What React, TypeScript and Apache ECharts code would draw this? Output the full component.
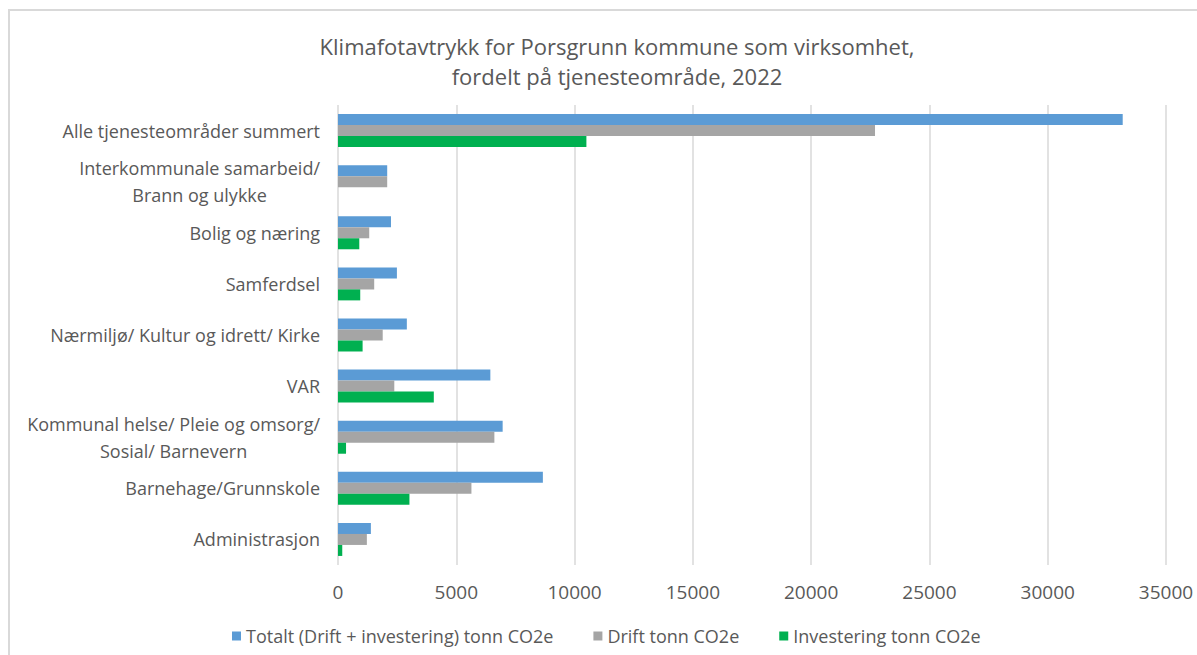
import React, { useEffect, useRef } from "react";
import * as echarts from "echarts";

const categories = [
  "Alle tjenesteområder summert",
  "Interkommunale samarbeid/\nBrann og ulykke",
  "Bolig og næring",
  "Samferdsel",
  "Nærmiljø/ Kultur og idrett/ Kirke",
  "VAR",
  "Kommunal helse/ Pleie og omsorg/\nSosial/ Barnevern",
  "Barnehage/Grunnskole",
  "Administrasjon",
];

const totalt = [33170, 2080, 2240, 2490, 2910, 6440, 6960, 8660, 1390];
const drift = [22700, 2080, 1320, 1530, 1890, 2380, 6610, 5640, 1220];
const investering = [10500, 0, 900, 940, 1040, 4050, 340, 3020, 180];

const seriesNames = [
  "Totalt (Drift + investering) tonn CO2e",
  "Drift tonn CO2e",
  "Investering tonn CO2e",
];
const colors = ["#5B9BD5", "#A5A5A5", "#00B050"];

const xTicks = { min: 0, max: 35000, interval: 5000 };

const FONT = "'Open Sans', 'Noto Sans', sans-serif";

export default function App() {
  const ref = useRef<HTMLDivElement>(null);
  useEffect(() => {
    if (!ref.current) return;
    const chart = echarts.init(ref.current, undefined, { renderer: "svg" });
    const seriesData = [totalt, drift, investering];
    chart.setOption({
      animation: false,
      backgroundColor: "#ffffff",
      title: {
        text: "Klimafotavtrykk for Porsgrunn kommune som virksomhet,\nfordelt på tjenesteområde, 2022",
        left: 612,
        top: 26,
        textAlign: "center",
        textStyle: {
          fontFamily: FONT,
          fontSize: 22,
          fontWeight: "normal",
          color: "#595959",
          lineHeight: 30,
        },
      },
      legend: {
        left: 227,
        top: 622,
        itemWidth: 9,
        itemHeight: 9,
        itemGap: 40,
        icon: "rect",
        textStyle: { fontFamily: FONT, fontSize: 18, color: "#595959" },
        data: seriesNames,
      },
      grid: { left: 338, right: 31, top: 105, bottom: 90, containLabel: false },
      xAxis: {
        type: "value",
        min: xTicks.min,
        max: xTicks.max,
        interval: xTicks.interval,
        axisLine: { show: false },
        axisTick: { show: false },
        splitLine: { show: true, lineStyle: { color: "#d9d9d9", width: 1.5 } },
        axisLabel: {
          margin: 17,
          fontFamily: FONT,
          fontSize: 19,
          color: "#595959",
          formatter: (v: number) => String(v),
        },
      },
      yAxis: {
        type: "category",
        inverse: true,
        data: categories,
        axisLine: { show: false },
        axisTick: { show: false },
        axisLabel: {
          margin: 18,
          formatter: (v: string) =>
            v
              .split("\n")
              .map((l) => `{c|${l}}`)
              .join("\n"),
          rich: {
            c: {
              align: "center",
              fontFamily: FONT,
              fontSize: 18,
              color: "#595959",
              lineHeight: 27,
            },
          },
        },
      },
      series: seriesNames.map((name, i) => ({
        name,
        type: "bar",
        data: seriesData[i],
        barWidth: 11,
        barGap: "0%",
        itemStyle: { color: colors[i] },
      })),
      graphic: [
        {
          type: "rect",
          shape: { x: 9, y: 10, width: 1200, height: 660 },
          style: { fill: "none", stroke: "#d9d9d9", lineWidth: 2 },
          silent: true,
          z: -10,
        },
      ],
    });
    return () => chart.dispose();
  }, []);
  return (
    <div
      ref={ref}
      style={{ position: "fixed", left: 0, top: 0, width: 1197, height: 655 }}
    />
  );
}
